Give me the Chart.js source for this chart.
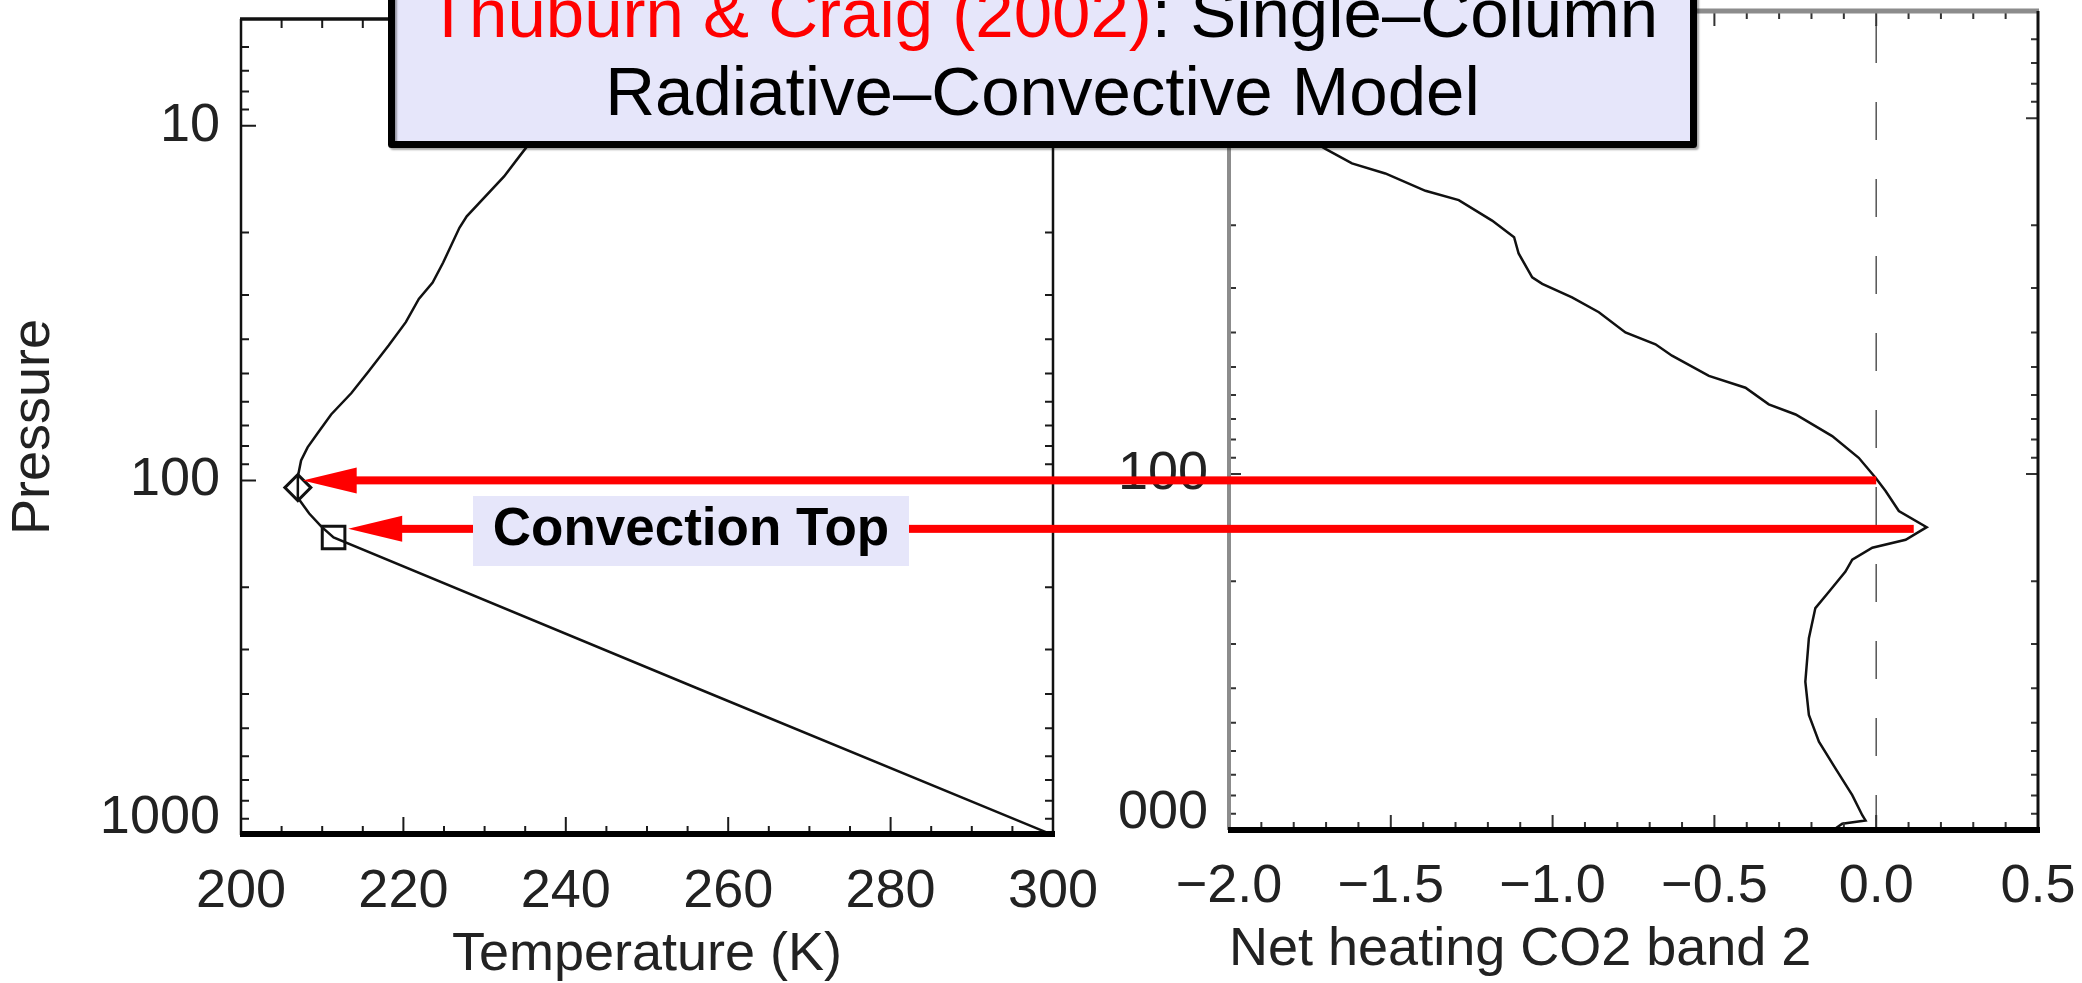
<!DOCTYPE html>
<html>
<head>
<meta charset="utf-8">
<title>Single-column radiative-convective model</title>
<script src="https://cdn.jsdelivr.net/npm/chart.js@4/dist/chart.umd.min.js"></script>
<style>
  html, body { margin: 0; padding: 0; background: #fff; }
  #page { position: relative; width: 2082px; height: 983px; overflow: hidden; }
  canvas { position: absolute; top: 0; }
  #tempCanvas { left: 0; }
  #heatCanvas { left: 1116px; }
  #notes { left: 0; z-index: 2; pointer-events: none; }
</style>
</head>
<body>
<div id="page">
  <canvas id="tempCanvas" width="1106" height="983"></canvas>
  <canvas id="heatCanvas" width="966" height="983"></canvas>
  <canvas id="notes" width="2082" height="983"></canvas>
</div>
<script>
// temperature profile, K vs hPa (top of the column first)
var tempK = [246, 241, 236.5, 234.4, 232.4, 227.8, 226.9, 224.9, 223.6, 221.9, 220.3, 218.2, 215.7,
             213.6, 211.1, 209.5, 208.2, 207.4, 207.0, 207.0, 207.0, 208.4, 209.9, 211.4, 256.1, 300];
var tempP = [5, 8, 10.5, 12.1, 13.9, 18.0, 19.4, 24.3, 27.7, 30.8, 35.8, 41.6, 49.3,
             56.7, 65.2, 73.3, 80.7, 87.9, 97.6, 104.8, 112, 124, 135, 144.9, 385, 1000];

// tropopause (diamond) and convection top (square)
var markT = [207.0, 211.4];
var markP = [104.8, 144.9];

// net heating in CO2 band 2 vs hPa
var heatVal = [-1.98, -1.86, -1.702, -1.620, -1.517, -1.393, -1.290, -1.187, -1.119, -1.105, -1.063, -1.032,
               -0.940, -0.857, -0.775, -0.682, -0.631, -0.517, -0.404, -0.332, -0.249, -0.136, -0.054,
               -0.002, 0.029, 0.070, 0.156, 0.091, -0.012, -0.074, -0.095, -0.146, -0.188, -0.208,
               -0.219, -0.208, -0.177, -0.126, -0.074, -0.043, -0.033, -0.105, -0.126];
var heatP = [8.6, 10, 12.2, 13.4, 14.3, 16.0, 17.0, 19.4, 21.6, 24.0, 28.0, 29.2,
             31.9, 35.1, 40.0, 43.2, 46.5, 53.0, 57.2, 63.7, 68.0, 78.2, 90.0,
             102.4, 111.6, 127, 141, 153, 161, 174, 188, 214, 238, 289,
             383, 475, 565, 671, 798, 909, 940, 960, 991];

// axis ticks
var tempTicks = [200, 220, 240, 260, 280, 300];
var heatTicks = [-2.0, -1.5, -1.0, -0.5, 0.0, 0.5];
var pressTicks = [10, 100, 1000];

// red arrows: pressure level, temperature at the head, heating value at the tail
var arrowP = [100, 137];
var arrowT = [207.6, 213.2];
var arrowH = [0.0, 0.116];

Chart.defaults.font.family = '"Liberation Sans", Arial, sans-serif';
Chart.defaults.color = '#222';

var FONT = 54;

function pts(xs, ys) {
  return xs.map(function(v, i) { return {x: v, y: ys[i]}; });
}

// minor tick lists (every 5 K, every 0.1, 2..9 per decade)
var tempMinor = [];
for (var t = 200; t <= 300; t += 5) tempMinor.push({v: t, major: t % 20 === 0});
var heatMinor = [];
for (var k = -20; k <= 5; k++) heatMinor.push({v: k / 10, major: k % 5 === 0});
var pressMinor = [];
[1, 10, 100].forEach(function(d) {
  for (var m = 2; m <= 10; m++) {
    var p = m * d;
    if (p >= 5 && p <= 1000) pressMinor.push({v: p, major: m === 10});
  }
});

// keep the plot frame where the layout padding puts it, labels may overhang
function noOverhang(s) {
  s.paddingTop = 0;
  s.paddingBottom = 0;
  s.paddingLeft = 0;
  s.paddingRight = 0;
}

// IDL style frame with inward ticks on all four sides
var frameTicks = {
  id: 'frameTicks',
  afterDraw: function(chart, args, o) {
    var ctx = chart.ctx, a = chart.chartArea;
    var sx = chart.scales.x, sy = chart.scales.y;
    ctx.save();
    ctx.lineCap = 'butt';
    ctx.strokeStyle = o.tickColor;
    ctx.lineWidth = 2;
    ctx.beginPath();
    o.xList.forEach(function(t) {
      var px = sx.getPixelForValue(t.v);
      var len = t.major ? o.xMajorLen : o.xMinorLen;
      ctx.moveTo(px, a.bottom); ctx.lineTo(px, a.bottom - len);
      ctx.moveTo(px, a.top); ctx.lineTo(px, a.top + len);
    });
    o.yList.forEach(function(t) {
      var py = sy.getPixelForValue(t.v);
      var len = t.major ? o.yMajorLen : o.yMinorLen;
      ctx.moveTo(a.left, py); ctx.lineTo(a.left + len, py);
      ctx.moveTo(a.right, py); ctx.lineTo(a.right - len, py);
    });
    ctx.stroke();

    var s = o.sides;
    function side(st, x0, y0, x1, y1) {
      ctx.strokeStyle = st[0];
      ctx.lineWidth = st[1];
      ctx.beginPath(); ctx.moveTo(x0, y0); ctx.lineTo(x1, y1); ctx.stroke();
    }
    side(s.top, a.left - 1, a.top, a.right + 1, a.top);
    side(s.left, a.left, a.top, a.left, a.bottom);
    side(s.right, a.right, a.top, a.right, a.bottom);
    side(s.bottom, a.left - 1, a.bottom - s.bottom[2], a.right + 2, a.bottom - s.bottom[2]);
    ctx.restore();
  }
};

function pressAxis(width, withTitle) {
  return {
    type: 'logarithmic',
    reverse: true,
    min: 5,
    max: 1000,
    afterFit: function(s) { s.width = width; noOverhang(s); },
    afterBuildTicks: function(s) { s.ticks = pressTicks.map(function(v) { return {value: v}; }); },
    grid: {display: false, drawTicks: false},
    border: {display: false},
    ticks: {
      padding: 21,
      color: '#222',
      // the bottom label sits a little above the axis line
      font: function(c) {
        return {size: FONT, lineHeight: c.tick && c.tick.value === 1000 ? '34px' : 1.2};
      },
      callback: function(v) { return v === 1000 ? ['1000', ''] : String(v); }
    },
    title: {
      display: withTitle,
      text: 'Pressure',
      color: '#222',
      font: {size: FONT, lineHeight: 1},
      padding: {top: 7, bottom: 0}
    }
  };
}

var tempChart = new Chart(document.getElementById('tempCanvas'), {
  type: 'scatter',
  data: {
    datasets: [
      {
        data: pts(tempK, tempP),
        showLine: true,
        borderColor: '#111',
        borderWidth: 2.5,
        pointRadius: 0
      },
      {
        data: pts(markT, markP),
        showLine: false,
        pointStyle: ['rectRot', 'rect'],
        pointRadius: [13, 16],
        borderColor: '#111',
        borderWidth: 3,
        backgroundColor: 'rgba(0,0,0,0)'
      }
    ]
  },
  options: {
    responsive: false,
    animation: false,
    events: [],
    layout: {padding: {top: 11, right: 53, left: 0, bottom: 0}},
    plugins: {
      legend: {display: false},
      tooltip: {enabled: false},
      frameTicks: {
        tickColor: '#1a1a1a',
        xList: tempMinor, yList: pressMinor,
        xMajorLen: 18, xMinorLen: 9, yMajorLen: 15, yMinorLen: 8,
        sides: {top: ['#111', 3.5], left: ['#111', 2.5], right: ['#111', 2.5], bottom: ['#000', 6, 1]}
      }
    },
    scales: {
      x: {
        type: 'linear',
        min: 200,
        max: 300,
        afterFit: function(s) { s.height = 148; noOverhang(s); },
        afterBuildTicks: function(s) { s.ticks = tempTicks.map(function(v) { return {value: v}; }); },
        grid: {display: false, drawTicks: false},
        border: {display: false},
        ticks: {padding: 25, color: '#222', font: {size: FONT}, callback: function(v) { return String(v); }},
        title: {
          display: true,
          text: 'Temperature (K)',
          color: '#222',
          font: {size: FONT, lineHeight: 1},
          padding: {top: 0, bottom: 1}
        }
      },
      y: pressAxis(241, true)
    }
  },
  plugins: [frameTicks]
});

var heatChart = new Chart(document.getElementById('heatCanvas'), {
  type: 'scatter',
  data: {
    datasets: [
      {
        data: pts(heatVal, heatP),
        showLine: true,
        borderColor: '#111',
        borderWidth: 2.5,
        pointRadius: 0
      },
      {
        // zero line
        data: pts([0, 0], [5, 1000]),
        showLine: true,
        borderColor: '#555',
        borderWidth: 1.5,
        borderDash: [38, 39],
        borderDashOffset: 63,
        pointRadius: 0
      }
    ]
  },
  options: {
    responsive: false,
    animation: false,
    events: [],
    layout: {padding: {top: 11, right: 44, left: 0, bottom: 0}},
    plugins: {
      legend: {display: false},
      tooltip: {enabled: false},
      frameTicks: {
        tickColor: '#333',
        xList: heatMinor, yList: pressMinor,
        xMajorLen: 15, xMinorLen: 8, yMajorLen: 12, yMinorLen: 7,
        sides: {top: ['#8c8c8c', 5], left: ['#8c8c8c', 4], right: ['#111', 3], bottom: ['#000', 6, 0]}
      }
    },
    scales: {
      x: {
        type: 'linear',
        min: -2,
        max: 0.5,
        afterFit: function(s) { s.height = 153; noOverhang(s); },
        afterBuildTicks: function(s) { s.ticks = heatTicks.map(function(v) { return {value: v}; }); },
        grid: {display: false, drawTicks: false},
        border: {display: false},
        ticks: {
          padding: 25,
          color: '#222',
          font: {size: FONT},
          callback: function(v) { return (v < 0 ? '\u2212' : '') + Math.abs(v).toFixed(1); }
        },
        title: {
          display: true,
          align: 'start',
          text: 'Net heating CO2 band 2',
          color: '#222',
          font: {size: FONT, lineHeight: 1},
          padding: {top: 0, bottom: 6}
        }
      },
      y: pressAxis(113, false)
    }
  },
  plugins: [frameTicks]
});

// arrows, labels and the heading box drawn across both panels
function drawNotes() {
  var ctx = document.getElementById('notes').getContext('2d');
  var tx = tempChart.scales.x, ty = tempChart.scales.y, hx = heatChart.scales.x;
  var shift = heatChart.canvas.offsetLeft;

  ctx.fillStyle = '#ff0000';
  for (var i = 0; i < arrowP.length; i++) {
    var y = ty.getPixelForValue(arrowP[i]);
    var tip = tx.getPixelForValue(arrowT[i]);
    var tail = shift + hx.getPixelForValue(arrowH[i]);
    ctx.fillRect(tip + 50, y - 4, tail - tip - 50, 8);
    ctx.beginPath();
    ctx.moveTo(tip, y);
    ctx.lineTo(tip + 54, y - 13);
    ctx.lineTo(tip + 54, y + 13);
    ctx.closePath();
    ctx.fill();
  }

  // convection top label
  ctx.fillStyle = '#e6e6fa';
  ctx.fillRect(473, 496, 436, 70);
  ctx.fillStyle = '#000';
  ctx.font = 'bold 53px "Liberation Sans", Arial, sans-serif';
  ctx.textAlign = 'center';
  ctx.textBaseline = 'alphabetic';
  ctx.fillText('Convection Top', 691, 545);

  // heading box
  ctx.save();
  ctx.fillStyle = '#e6e6fa';
  ctx.fillRect(391.5, -20, 1302, 164.5);
  ctx.shadowColor = 'rgba(0,0,0,0.35)';
  ctx.shadowOffsetX = 2;
  ctx.shadowOffsetY = 2;
  ctx.shadowBlur = 2;
  ctx.lineJoin = 'round';
  ctx.lineWidth = 7;
  ctx.strokeStyle = '#000';
  ctx.strokeRect(391.5, -20, 1302, 164.5);
  ctx.restore();

  var cx = 1042.5;
  ctx.font = '69px "Liberation Sans", Arial, sans-serif';
  ctx.textAlign = 'left';
  var red = 'Thuburn & Craig (2002)';
  var rest = ': Single\u2013Column';
  var w1 = ctx.measureText(red).width, w2 = ctx.measureText(rest).width;
  var x0 = cx - (w1 + w2) / 2;
  ctx.fillStyle = '#ff0000';
  ctx.fillText(red, x0, 37);
  ctx.fillStyle = '#000';
  ctx.fillText(rest, x0 + w1, 37);
  ctx.textAlign = 'center';
  ctx.fillText('Radiative\u2013Convective Model', cx, 115);
}
drawNotes();
</script>
</body>
</html>
